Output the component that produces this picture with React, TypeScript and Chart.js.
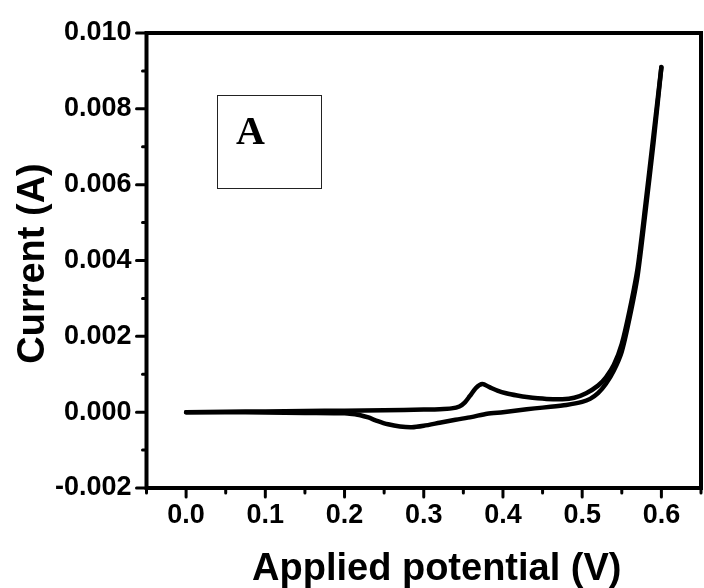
import React, { useEffect, useRef } from 'react';
import { Chart, registerables } from 'chart.js';

Chart.register(...registerables);

// Forward scan (0.0 V -> 0.6 V)
const forwardPotential = [0.0, 0.05, 0.1, 0.15, 0.2, 0.25, 0.3, 0.32, 0.335, 0.345, 0.352, 0.358, 0.366, 0.374, 0.383, 0.393, 0.404, 0.418, 0.43, 0.455, 0.475, 0.49, 0.505, 0.52, 0.53, 0.54, 0.55, 0.56, 0.57, 0.58, 0.59, 0.6];
const forwardCurrent = [0.0, 0.00001, 0.00002, 0.00003, 0.00004, 0.00005, 0.00007, 0.00008, 0.0001, 0.00015, 0.00026, 0.00042, 0.00064, 0.00074, 0.00066, 0.00057, 0.0005, 0.00044, 0.0004, 0.00035, 0.00034, 0.00038, 0.0005, 0.0007, 0.00092, 0.00125, 0.0018, 0.0027, 0.0038, 0.0055, 0.0073, 0.0091];

// Reverse scan (0.6 V -> 0.0 V)
const reversePotential = [0.6, 0.59, 0.58, 0.57, 0.56, 0.55, 0.54, 0.53, 0.52, 0.51, 0.5, 0.48, 0.46, 0.44, 0.42, 0.4, 0.38, 0.36, 0.34, 0.32, 0.3, 0.285, 0.27, 0.255, 0.24, 0.23, 0.22, 0.21, 0.2, 0.15, 0.1, 0.05, 0.0];
const reverseCurrent = [0.0091, 0.0071, 0.0053, 0.0036, 0.0025, 0.0016, 0.0011, 0.00075, 0.0005, 0.00035, 0.00027, 0.00019, 0.00014, 0.0001, 0.00005, 0.0, -0.00004, -0.00013, -0.0002, -0.00028, -0.00036, -0.0004, -0.00038, -0.00032, -0.00022, -0.00014, -0.00008, -0.00005, -0.00003, -0.00002, -0.00001, 0.0, 0.0];

// Axis ranges and tick labels
const xMin = -0.05;
const xMax = 0.65;
const xMinorStep = 0.05;
const xTickLabels = ['0.0', '0.1', '0.2', '0.3', '0.4', '0.5', '0.6'];
const yMin = -0.002;
const yMax = 0.010;
const yMinorStep = 0.001;
const yTickLabels = ['-0.002', '0.000', '0.002', '0.004', '0.006', '0.008', '0.010'];

const xAxisTitle = 'Applied potential (V)';
const yAxisTitle = 'Current (A)';
const panelLabel = 'A';

const SANS = '"Liberation Sans", Arial, Helvetica, sans-serif';
const SERIF = '"Liberation Serif", "Times New Roman", serif';

function buildTicks(min: number, max: number, step: number, decimals: number) {
  const out: { value: number }[] = [];
  const n = Math.round((max - min) / step);
  for (let i = 0; i <= n; i++) {
    out.push({ value: parseFloat((min + i * step).toFixed(decimals)) });
  }
  return out;
}

const framePlugin = {
  id: 'framePlugin',
  afterDraw(chart: any) {
    const { ctx, chartArea } = chart;
    const { left, right, top, bottom } = chartArea;
    const xs = chart.scales.x;
    const ys = chart.scales.y;
    ctx.save();
    ctx.strokeStyle = '#000';
    ctx.lineCap = 'round';
    ctx.lineWidth = 3;
    xs.ticks.forEach((t: any) => {
      const px = xs.getPixelForValue(t.value);
      const major = t.label !== '' && t.label != null;
      ctx.beginPath();
      ctx.moveTo(px, bottom);
      ctx.lineTo(px, bottom + (major ? 9 : 5));
      ctx.stroke();
    });
    ys.ticks.forEach((t: any) => {
      const py = ys.getPixelForValue(t.value);
      const major = t.label !== '' && t.label != null;
      ctx.beginPath();
      ctx.moveTo(left, py);
      ctx.lineTo(left - (major ? 10 : 4), py);
      ctx.stroke();
    });
    // frame
    ctx.lineCap = 'butt';
    ctx.lineWidth = 4;
    ctx.strokeRect(left, top, right - left, bottom - top);

    // axis titles
    ctx.fillStyle = '#000';
    ctx.font = `bold 38px ${SANS}`;
    ctx.textAlign = 'center';
    ctx.textBaseline = 'alphabetic';
    ctx.fillText(xAxisTitle, (left + right) / 2 + 13, bottom + 92);

    ctx.save();
    ctx.translate(34, (top + bottom) / 2 + 3);
    ctx.rotate(-Math.PI / 2);
    ctx.textBaseline = 'middle';
    ctx.fillText(yAxisTitle, 0, 0);
    ctx.restore();

    // panel label box
    ctx.lineWidth = 1;
    ctx.strokeStyle = '#222';
    ctx.strokeRect(Math.round(left + 70) + 0.5, Math.round(top + 62) + 0.5, 104, 93);
    ctx.font = `bold 40px ${SERIF}`;
    ctx.textAlign = 'left';
    ctx.fillText(panelLabel, left + 89.5, top + 111);
    ctx.restore();
  },
};

export default function App() {
  const canvasRef = useRef<HTMLCanvasElement | null>(null);

  useEffect(() => {
    document.body.style.margin = '0';
    const canvas = canvasRef.current;
    if (!canvas) return;

    const forwardData = forwardPotential.map((v, i) => ({ x: v, y: forwardCurrent[i] }));
    const reverseData = reversePotential.map((v, i) => ({ x: v, y: reverseCurrent[i] }));

    const lineStyle = {
      borderColor: '#000',
      backgroundColor: '#000',
      borderWidth: 4.5,
      pointRadius: 0,
      tension: 0.25,
      fill: false,
      showLine: true,
      borderCapStyle: 'round' as const,
      borderJoinStyle: 'round' as const,
    };

    const chart = new Chart(canvas, {
      type: 'scatter',
      data: {
        datasets: [
          { label: 'Forward', data: forwardData, ...lineStyle },
          { label: 'Reverse', data: reverseData, ...lineStyle },
        ],
      },
      options: {
        responsive: false,
        animation: false,
        devicePixelRatio: 1,
        layout: { padding: { top: 33, right: 2, left: 0, bottom: 0 } },
        plugins: { legend: { display: false }, tooltip: { enabled: false }, title: { display: false } },
        scales: {
          x: {
            type: 'linear',
            min: xMin,
            max: xMax,
            grid: { display: false },
            border: { display: false },
            afterBuildTicks: (scale: any) => {
              scale.ticks = buildTicks(xMin, xMax, xMinorStep, 2);
            },
            afterFit: (scale: any) => {
              scale.height = 100;
            },
            ticks: {
              autoSkip: false,
              maxRotation: 0,
              minRotation: 0,
              padding: 3,
              color: '#000',
              font: { family: SANS, size: 27, weight: 'bold' },
              callback: (value: any) => {
                const v = Number(value);
                const idx = Math.round(v * 10);
                if (Math.abs(v * 10 - idx) < 1e-6 && idx >= 0 && idx < xTickLabels.length) {
                  return xTickLabels[idx];
                }
                return '';
              },
            },
          },
          y: {
            type: 'linear',
            min: yMin,
            max: yMax,
            grid: { display: false },
            border: { display: false },
            afterBuildTicks: (scale: any) => {
              scale.ticks = buildTicks(yMin, yMax, yMinorStep, 4);
            },
            afterFit: (scale: any) => {
              scale.width = 146.5;
            },
            ticks: {
              autoSkip: false,
              padding: 7,
              color: '#000',
              font: { family: SANS, size: 27, weight: 'bold' },
              callback: (value: any) => {
                const v = Number(value);
                const k = (v - yMin) / 0.002;
                const idx = Math.round(k);
                if (Math.abs(k - idx) < 1e-6 && idx >= 0 && idx < yTickLabels.length) {
                  return yTickLabels[idx];
                }
                return '';
              },
            },
          },
        },
      },
      plugins: [framePlugin],
    });

    return () => {
      chart.destroy();
    };
  }, []);

  return (
    <div style={{ width: 704, height: 588, background: '#fff' }}>
      <canvas ref={canvasRef} width={704} height={588} style={{ display: 'block' }} />
    </div>
  );
}
